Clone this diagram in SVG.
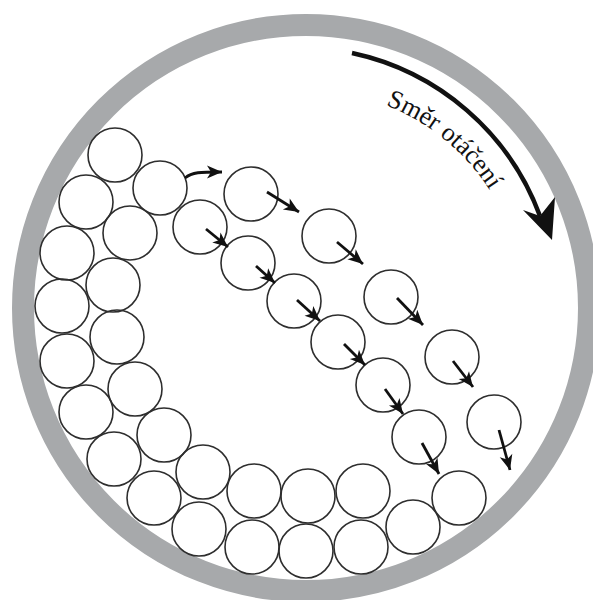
<svg xmlns="http://www.w3.org/2000/svg" width="593" height="600" viewBox="0 0 593 600">
<style>
.ball{fill:none;stroke:#2e2e2e;stroke-width:1.6}
.arr{fill:none;stroke:#111;stroke-width:2.8;marker-end:url(#ah)}
.lbl{font-family:"Liberation Serif","Times New Roman",serif;font-size:26px;fill:#111}
</style>
<defs>
<marker id="ah" markerUnits="userSpaceOnUse" markerWidth="16" markerHeight="14" refX="15" refY="6.5" orient="auto" overflow="visible">
<path d="M0,0 L15,6.5 L0,13 L4,6.5 z" fill="#111"/>
</marker>
<path id="tp" d="M385.8,105.2 A216,216 0 0 1 510.9,233.4"/>
</defs>
<rect width="593" height="600" fill="#fff"/>
<g id="drum">
<circle cx="306" cy="308" r="283" fill="none" stroke="#a7a9ab" stroke-width="22"/>
</g>
<g id="pile">
<circle id="p1" class="ball" cx="115" cy="155" r="27"/>
<circle id="p2" class="ball" cx="160" cy="188" r="27"/>
<circle id="p3" class="ball" cx="86" cy="202" r="27"/>
<circle id="p4" class="ball" cx="130" cy="233" r="27"/>
<circle id="p5" class="ball" cx="67" cy="253" r="27"/>
<circle id="p6" class="ball" cx="113" cy="285" r="27"/>
<circle id="p7" class="ball" cx="62" cy="306" r="27"/>
<circle id="p8" class="ball" cx="117" cy="337" r="27"/>
<circle id="p9" class="ball" cx="67" cy="361" r="27"/>
<circle id="p10" class="ball" cx="135" cy="389" r="27"/>
<circle id="p11" class="ball" cx="86" cy="412" r="27"/>
<circle id="p12" class="ball" cx="164" cy="435" r="27"/>
<circle id="p13" class="ball" cx="114" cy="459" r="27"/>
<circle id="p14" class="ball" cx="203" cy="472" r="27"/>
<circle id="p15" class="ball" cx="154" cy="498" r="27"/>
<circle id="p16" class="ball" cx="254" cy="491" r="27"/>
<circle id="p17" class="ball" cx="199" cy="529" r="27"/>
<circle id="p18" class="ball" cx="308" cy="496" r="27"/>
<circle id="p19" class="ball" cx="363" cy="491" r="27"/>
<circle id="p20" class="ball" cx="252" cy="547" r="27"/>
<circle id="p21" class="ball" cx="306" cy="551" r="27"/>
<circle id="p22" class="ball" cx="361" cy="547" r="27"/>
<circle id="p23" class="ball" cx="413" cy="527" r="27"/>
<circle id="p24" class="ball" cx="459" cy="498" r="27"/>
</g>
<g id="cascade">
<circle id="a1" class="ball" cx="200" cy="227" r="27"/>
<circle id="a2" class="ball" cx="248" cy="263" r="27"/>
<circle id="a3" class="ball" cx="294" cy="301" r="27"/>
<circle id="a4" class="ball" cx="338" cy="342" r="27"/>
<circle id="a5" class="ball" cx="383" cy="385" r="27"/>
<circle id="a6" class="ball" cx="419" cy="437" r="27"/>
<circle id="b1" class="ball" cx="251" cy="194" r="27"/>
<circle id="b2" class="ball" cx="329" cy="236" r="27"/>
<circle id="b3" class="ball" cx="391" cy="297" r="27"/>
<circle id="b4" class="ball" cx="452" cy="357" r="27"/>
<circle id="b5" class="ball" cx="494" cy="422" r="27"/>
</g>
<g id="connectors">
<path class="arr" d="M185,178 C192,172 200,172 222,172"/>
<path class="arr" d="M267,192 L299,212"/>
<path class="arr" d="M337,242 L363,264"/>
<path class="arr" d="M397,298 L423,325"/>
<path class="arr" d="M453,361 L473,387"/>
<path class="arr" d="M499,430 L510,470"/>
<path class="arr" d="M206,229 L228,247"/>
<path class="arr" d="M256,266 L275,283"/>
<path class="arr" d="M297,300 L320,321"/>
<path class="arr" d="M344,344 L365,365"/>
<path class="arr" d="M385,389 L403,414"/>
<path class="arr" d="M422,443 L439,474"/>
<path d="M352,53 A258,258 0 0 1 540,216" fill="none" stroke="#111" stroke-width="4.5"/>
<path d="M552,240 L523,210 L540,216 L555,197 z" fill="#111"/>
</g>
<g id="label">
<text class="lbl"><textPath href="#tp">Směr otáčení</textPath></text>
</g>
</svg>
